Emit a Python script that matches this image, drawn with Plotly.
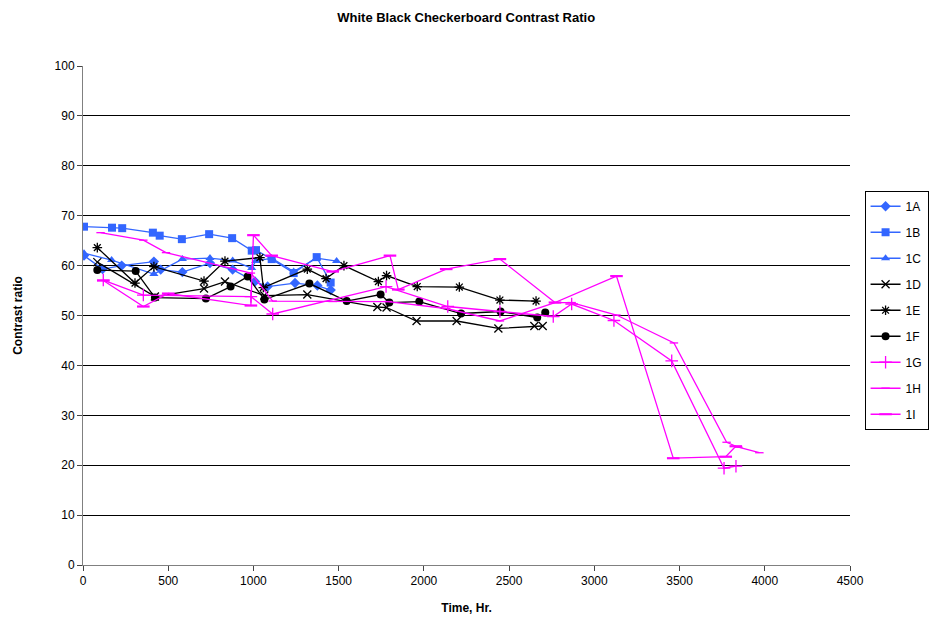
import plotly.graph_objects as go

# ---- data (time in hours, contrast ratio) ----
t_1A = [6, 115, 227, 416, 456, 583, 745, 878, 1009, 1083, 1244, 1375, 1453]
v_1A = [62.0, 59.3, 60.0, 60.8, 59.2, 58.7, 60.5, 59.2, 56.8, 55.8, 56.5, 56.0, 55.1]

t_1B = [6, 170, 230, 410, 450, 580, 740, 875, 990, 1015, 1107, 1236, 1371, 1453]
v_1B = [67.8, 67.6, 67.5, 66.6, 66.0, 65.3, 66.3, 65.5, 63.0, 63.1, 61.3, 58.5, 61.7, 56.6]

t_1C = [6, 168, 416, 583, 745, 878, 990, 1013, 1107, 1236, 1371, 1488]
v_1C = [62.5, 61.1, 58.3, 61.3, 61.5, 61.0, 59.5, 60.9, 61.5, 58.8, 61.5, 60.9]

t_1D = [84, 422, 710, 833, 1064, 1316, 1727, 1781, 1957, 2192, 2437, 2648, 2697]
v_1D = [60.7, 53.8, 55.4, 56.8, 54.0, 54.2, 51.7, 51.6, 48.9, 48.9, 47.4, 47.9, 47.9]

t_1E = [84, 305, 416, 710, 833, 1038, 1058, 1316, 1426, 1531, 1733, 1781, 1961, 2208, 2446, 2658]
v_1E = [63.6, 56.5, 59.8, 56.9, 60.9, 61.6, 55.6, 59.3, 57.4, 60.0, 56.8, 58.0, 55.8, 55.7, 53.1, 52.9]

t_1F = [84, 309, 422, 721, 866, 966, 1064, 1328, 1547, 1746, 1797, 1973, 2218, 2450, 2665, 2712]
v_1F = [59.1, 58.9, 53.6, 53.4, 55.8, 57.8, 53.2, 56.4, 52.9, 54.2, 52.6, 52.8, 50.4, 50.8, 49.6, 50.6]

t_1G = [119, 354, 985, 1113, 1778, 2140, 2446, 2759, 2867, 3115, 3454, 3761, 3831]
v_1G = [57.1, 54.1, 53.8, 50.3, 55.8, 51.8, 50.8, 49.8, 52.3, 49.0, 40.9, 19.4, 19.8]

t_1H = [103, 354, 487, 985, 1113, 1465, 1789, 2131, 2446, 2769, 2867, 3130, 3467, 3776, 3845, 3968]
v_1H = [66.6, 65.1, 62.6, 58.5, 52.9, 52.8, 52.8, 51.4, 48.9, 52.6, 52.6, 50.1, 44.5, 24.6, 23.6, 22.5]

t_1I = [119, 354, 500, 985, 1000, 1107, 1465, 1801, 1850, 2131, 2446, 2769, 3130, 3463, 3771, 3830]
v_1I = [57.0, 51.8, 54.4, 52.0, 66.1, 62.0, 58.8, 62.0, 55.2, 59.3, 61.3, 52.6, 57.9, 21.4, 21.7, 23.8]

x_ticks = [0, 500, 1000, 1500, 2000, 2500, 3000, 3500, 4000, 4500]
y_ticks = [0, 10, 20, 30, 40, 50, 60, 70, 80, 90, 100]

BLUE = "#3366FF"
BLACK = "#000000"
MAG = "#FF00FF"

series = [
    ("1A", t_1A, v_1A, BLUE, "diamond", 8),
    ("1B", t_1B, v_1B, BLUE, "square", 8),
    ("1C", t_1C, v_1C, BLUE, "triangle-up", 8),
    ("1D", t_1D, v_1D, BLACK, "x-thin-open", 8),
    ("1E", t_1E, v_1E, BLACK, "asterisk-open", 8),
    ("1F", t_1F, v_1F, BLACK, "circle", 8),
    ("1G", t_1G, v_1G, MAG, "cross-thin-open", 9),
    ("1H", t_1H, v_1H, MAG, "line-ew-open", 6),
    ("1I", t_1I, v_1I, MAG, "line-ew-open", 9),
]

fig = go.Figure()
for name, xs, ys, col, sym, sz in series:
    lw = 2.2 if name == "1I" else 1.3
    fig.add_trace(go.Scatter(
        x=xs, y=ys, name=name, legendgroup=name, mode="lines+markers",
        line=dict(color=col, width=1.3),
        marker=dict(symbol=sym, size=sz, color=col,
                    line=dict(color=col, width=lw if "open" in sym else 0)),
    ))

fig.update_layout(
    width=937, height=619,
    paper_bgcolor="white", plot_bgcolor="white",
    margin=dict(l=75, r=95, t=58, b=62, autoexpand=False),
    font=dict(family="Arial, Liberation Sans, sans-serif", size=12, color="black"),
    title=dict(text="<b>White Black Checkerboard Contrast Ratio</b>",
               x=0.489, xanchor="center", y=0.985, yanchor="middle",
               font=dict(size=13)),
    showlegend=True,
    legend=dict(x=1.019, xanchor="left", y=0.75, yanchor="top",
                bordercolor="black", borderwidth=1, bgcolor="white",
                font=dict(size=12), tracegroupgap=7, itemwidth=30),
)
fig.update_xaxes(range=[0, 4500], tickvals=x_ticks, ticks="outside", ticklen=5,
                 showgrid=False, showline=True, linecolor="#808080", linewidth=1,
                 zeroline=False, mirror=False, automargin=False,
                 title=dict(text="<b>Time, Hr.</b>", font=dict(size=12), standoff=16))
fig.update_yaxes(range=[0, 100], tickvals=y_ticks, ticks="outside", ticklen=5,
                 showgrid=True, gridcolor="black", gridwidth=1, automargin=False,
                 showline=True, linecolor="#808080", linewidth=1, zeroline=False,
                 title=dict(text="<b>Contrast ratio</b>", font=dict(size=12), standoff=29))

fig.write_html("out.html")
